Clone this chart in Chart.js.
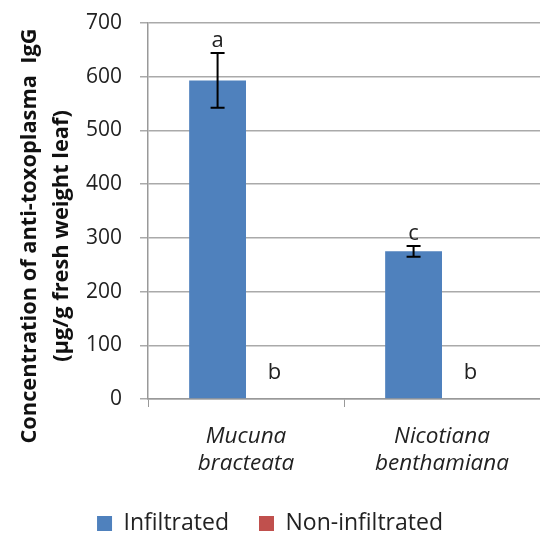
<!DOCTYPE html>
<html><head><meta charset="utf-8">
<script src="https://cdn.jsdelivr.net/npm/chart.js@4"></script>
<style>html,body{margin:0;padding:0;background:#fff;overflow:hidden}#wrap{width:540px;height:533px}</style>
</head><body><div id="wrap"><canvas id="c" width="540" height="533"></canvas></div>
<script>
const categories = [["Mucuna","bracteata"],["Nicotiana","benthamiana"]];
const seriesNames = ["Infiltrated","Non-infiltrated"];
const infiltrated = [593, 275];
const infiltratedErr = [51, 10];
const nonInfiltrated = [0, 0];
const infiltratedLetters = ["a","c"];
const nonInfiltratedLetters = ["b","b"];
const yTicks = [0,100,200,300,400,500,600,700];
const yTitle = ["Concentration of anti-toxoplasma  IgG","(µg/g fresh weight leaf)"];

const FONT = "'Open Sans', 'Liberation Sans', sans-serif";

const annot = {
  id: 'annot',
  afterDatasetsDraw(chart) {
    const ctx = chart.ctx, y = chart.scales.y;
    const m0 = chart.getDatasetMeta(0), m1 = chart.getDatasetMeta(1);
    ctx.save();
    ctx.strokeStyle = '#000'; ctx.lineWidth = 2;
    infiltrated.forEach((v,i)=>{
      const x = m0.data[i].x;
      const t = y.getPixelForValue(v + infiltratedErr[i]);
      const b = y.getPixelForValue(v - infiltratedErr[i]);
      ctx.beginPath();
      ctx.moveTo(x,t); ctx.lineTo(x,b);
      ctx.moveTo(x-7,t); ctx.lineTo(x+7,t);
      ctx.moveTo(x-7,b); ctx.lineTo(x+7,b);
      ctx.stroke();
      ctx.fillStyle = '#222'; ctx.font = '22px ' + FONT;
      ctx.textAlign = 'center'; ctx.textBaseline = 'alphabetic';
      ctx.fillText(infiltratedLetters[i], x, t - 6);
    });
    nonInfiltrated.forEach((v,i)=>{
      const x = m1.data[i].x;
      const p = y.getPixelForValue(v);
      ctx.fillStyle = '#222'; ctx.font = '22px ' + FONT;
      ctx.textAlign = 'center'; ctx.textBaseline = 'alphabetic';
      ctx.fillText(nonInfiltratedLetters[i], x, p - 20);
    });
    ctx.restore();
  },
  afterDraw(chart) {
    const ctx = chart.ctx;
    const yc = 236;
    const baselines = [36, 68];
    ctx.save();
    ctx.fillStyle = '#111';
    ctx.font = 'bold 21.8px ' + FONT;
    ctx.textAlign = 'center'; ctx.textBaseline = 'alphabetic';
    yTitle.forEach((line, i) => {
      ctx.save();
      ctx.translate(baselines[i], yc);
      ctx.rotate(-Math.PI/2);
      ctx.fillText(line, 0, 0);
      ctx.restore();
    });
    ctx.restore();
  }
};

new Chart(document.getElementById('c'), {
  type: 'bar',
  data: {
    labels: categories,
    datasets: [
      {label: seriesNames[0], data: infiltrated, backgroundColor: '#4F81BD', categoryPercentage: 0.58, barPercentage: 1.0},
      {label: seriesNames[1], data: nonInfiltrated, backgroundColor: '#C0504D', categoryPercentage: 0.58, barPercentage: 1.0}
    ]
  },
  options: {
    responsive: false, animation: false,
    layout: {padding: {left: 0, right: 0, top: 23, bottom: -12}},
    plugins: {
      legend: {position: 'bottom', labels: {boxWidth: 15, boxHeight: 15, color: '#222', font: {family: FONT, size: 23}, padding: 30}},
      tooltip: {enabled: false}
    },
    scales: {
      x: {
        afterFit: (s) => { s.height = 83; s.paddingLeft = 0; s.paddingRight = 0; },
        grid: {drawOnChartArea: false, drawTicks: true, tickLength: 8, color: '#999'},
        border: {color: '#999', width: 1.5},
        ticks: {color: '#222', font: {family: FONT, size: 22.5, style: 'italic'}, padding: 16}
      },
      y: {
        min: 0, max: 700,
        afterBuildTicks: (s) => { s.ticks = yTicks.map(v => ({value: v})); },
        afterFit: (s) => { s.width = 148; s.paddingTop = 0; s.paddingBottom = 0; },
        grid: {color: '#aaa', lineWidth: 1.5, tickLength: 8},
        border: {color: '#999', width: 1.5},
        ticks: {color: '#222', font: {family: FONT, size: 21}, padding: 18}
      }
    }
  },
  plugins: [annot]
});
</script></body></html>
